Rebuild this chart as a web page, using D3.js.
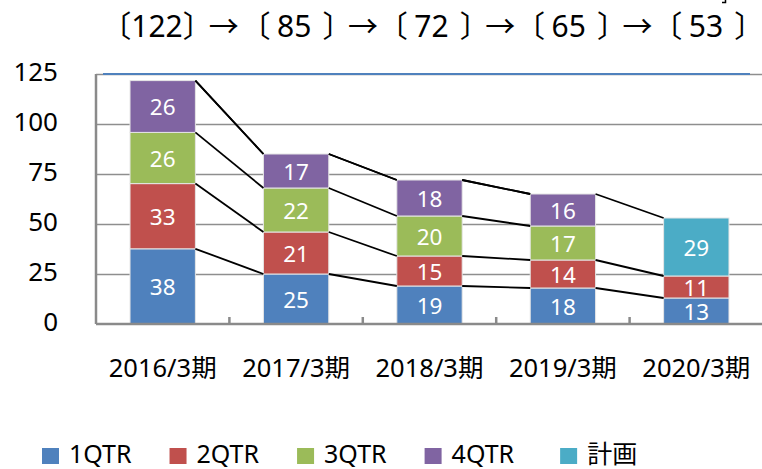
<!DOCTYPE html>
<html lang="ja">

<head>
    <meta charset="UTF-8">
    <title></title>
    <style>
        body {
            margin: 0;
            background: #fff;
        }

        text {
            font-family: "Noto Sans", "Noto Sans CJK JP", sans-serif;
        }

        .grid line {
            stroke: #8e8e8e;
            stroke-width: 1.6px;
        }

        .axis-line {
            stroke: #8a8a8a;
            stroke-width: 2.5px;
        }

        .series-line {
            stroke: #000;
            stroke-width: 1.8px;
        }

        .bar {
            stroke: #e6e6e6;
            stroke-width: 1px;
        }

        .value-label {
            fill: #fff;
            font-size: 22.5px;
            text-anchor: middle;
            dominant-baseline: central;
        }

        .y-label {
            font-size: 26px;
            text-anchor: end;
            dominant-baseline: central;
        }

        .x-label {
            font-size: 25.5px;
            text-anchor: middle;
        }

        .title {
            font-size: 30px;
        }

        .title-sym {
            font-family: "Noto Sans CJK JP", sans-serif;
            font-size: 30px;
        }

        .title-bracket {
            font-family: "Noto Sans CJK JP", sans-serif;
            font-size: 30px;
            font-feature-settings: "halt" 1;
        }

        .legend-label {
            font-size: 25px;
        }
    </style>
</head>

<body>
    <script src="https://d3js.org/d3.v7.min.js"></script>
    <script>
        const categories = ['2016/3期', '2017/3期', '2018/3期', '2019/3期', '2020/3期'];
        const seriesNames = ['1QTR', '2QTR', '3QTR', '4QTR', '計画'];
        const q1 = [37.6, 25, 19, 18, 13];
        const q2 = [32.6, 21, 15, 14, 11];
        const q3 = [25.6, 22, 20, 17, null];
        const q4 = [25.9, 17, 18, 16, null];
        const plan = [0, 0, 0, 0, 29];
        const yTicks = [0, 25, 50, 75, 100, 125];
        const colors = ['#4f81bd', '#c0504d', '#9bbb59', '#8064a2', '#4bacc6'];

        const width = 762;
        const height = 469;
        const plotLeft = 96, plotRight = 763, plotTop = 74, plotBottom = 324;

        const values = [q1, q2, q3, q4, plan];

        const xScale = d3.scaleBand()
            .domain(categories)
            .range([plotLeft, plotRight])
            .paddingInner(0.51)
            .paddingOuter(0.255);
        const yScale = d3.scaleLinear()
            .domain([0, 125])
            .range([plotBottom, plotTop]);
        const bw = xScale.bandwidth();

        // cumulative tops per series/category
        const tops = values.map(() => []);
        const bases = values.map(() => []);
        categories.forEach((c, i) => {
            let cum = 0;
            values.forEach((s, k) => {
                bases[k][i] = cum;
                cum += s[i] || 0;
                tops[k][i] = cum;
            });
        });
        const totals = categories.map((c, i) => Math.round(d3.sum(values, s => s[i] || 0)));

        const svg = d3.select('body')
            .append('svg')
            .attr('width', width)
            .attr('height', height);

        // title: 〔total〕→〔total〕... as one text with positioned tspans
        function measure(str, cls) {
            const t = svg.append('text').attr('class', cls).text(str);
            const w = t.node().getComputedTextLength();
            t.remove();
            return w;
        }
        const bracketW = measure('〔', 'title-bracket');
        const arrowW = measure('→', 'title-sym');
        const titleX = d3.scalePoint().domain(d3.range(totals.length)).range([157, 706]);
        const title = svg.append('text').attr('y', 37);
        totals.forEach((t, i) => {
            const cx = titleX(i);
            const hw = measure(String(t), 'title') / 2;
            const openEnd = i === 0 ? cx - hw : cx - hw - 6.5;
            const closeStart = i === 0 ? cx + hw : cx + hw + 11;
            title.append('tspan').attr('class', 'title-bracket').attr('x', openEnd - bracketW).text('〔');
            title.append('tspan').attr('class', 'title').attr('x', cx - hw).text(t);
            title.append('tspan').attr('class', 'title-bracket').attr('x', closeStart).text('〕');
            if (i < totals.length - 1) {
                const mid = (cx + titleX(i + 1)) / 2 - (i === 0 ? 2 : 0);
                title.append('tspan').attr('class', 'title-sym').attr('x', mid - arrowW / 2).text('→');
            }
        });

        // clipped fragment at the very top edge
        svg.append('path')
            .attr('d', 'M722,2.5H725.5V0')
            .attr('fill', 'none')
            .attr('stroke', '#000')
            .attr('stroke-width', 1.5);

        // grid
        svg.append('g')
            .attr('class', 'grid')
            .attr('transform', `translate(${plotLeft}, 0)`)
            .call(d3.axisRight(yScale).tickValues(yTicks.slice(1)).tickSize(plotRight - plotLeft).tickFormat(''))
            .call(g => g.select('.domain').remove());

        svg.append('line')
            .attr('x1', 103).attr('x2', 750)
            .attr('y1', yScale(125)).attr('y2', yScale(125))
            .attr('stroke', '#4f81bd')
            .attr('stroke-width', 2);

        // bars
        values.forEach((s, k) => {
            svg.append('g')
                .selectAll('rect')
                .data(categories.map((c, i) => ({ c, i, v: s[i] })).filter(d => d.v))
                .join('rect')
                .attr('class', 'bar')
                .attr('fill', colors[k])
                .attr('x', d => xScale(d.c))
                .attr('width', bw)
                .attr('y', d => yScale(tops[k][d.i]))
                .attr('height', d => yScale(bases[k][d.i]) - yScale(tops[k][d.i]));
        });

        // series lines
        values.forEach((s, k) => {
            for (let i = 0; i < categories.length - 1; i++) {
                if (s[i] == null || s[i + 1] == null) continue;
                svg.append('line')
                    .attr('class', 'series-line')
                    .attr('x1', xScale(categories[i]) + bw)
                    .attr('y1', yScale(tops[k][i]))
                    .attr('x2', xScale(categories[i + 1]))
                    .attr('y2', yScale(tops[k][i + 1]));
            }
        });

        // value labels
        values.forEach((s, k) => {
            svg.append('g')
                .selectAll('text')
                .data(categories.map((c, i) => ({ c, i, v: s[i] })).filter(d => d.v))
                .join('text')
                .attr('class', 'value-label')
                .attr('x', d => xScale(d.c) + bw / 2)
                .attr('y', d => (yScale(tops[k][d.i]) + yScale(bases[k][d.i])) / 2)
                .text(d => Math.round(d.v));
        });

        // axes
        svg.append('line')
            .attr('class', 'axis-line')
            .attr('x1', plotLeft).attr('x2', plotLeft)
            .attr('y1', yScale(125)).attr('y2', plotBottom);
        svg.append('line')
            .attr('class', 'axis-line')
            .attr('x1', plotLeft).attr('x2', plotRight)
            .attr('y1', plotBottom).attr('y2', plotBottom);

        const step = xScale.step();
        svg.append('g')
            .selectAll('line')
            .data(d3.range(1, categories.length))
            .join('line')
            .attr('class', 'axis-line')
            .attr('x1', i => plotLeft + i * step).attr('x2', i => plotLeft + i * step)
            .attr('y1', plotBottom - 7).attr('y2', plotBottom);

        svg.append('g')
            .selectAll('text')
            .data(yTicks)
            .join('text')
            .attr('class', 'y-label')
            .attr('x', 58)
            .attr('y', d => yScale(d) - 3)
            .text(d => d);

        svg.append('g')
            .selectAll('text')
            .data(categories)
            .join('text')
            .attr('class', 'x-label')
            .attr('x', d => xScale(d) + bw / 2)
            .attr('y', 377)
            .text(d => d);

        // legend
        let lx = 42;
        seriesNames.forEach((name, k) => {
            const g = svg.append('g').attr('transform', `translate(${lx}, 0)`);
            g.append('rect')
                .attr('x', 0).attr('y', 448)
                .attr('width', 17).attr('height', 16)
                .attr('fill', colors[k]);
            const t = g.append('text')
                .attr('class', 'legend-label')
                .attr('x', 27)
                .attr('y', 463)
                .text(name);
            lx += 27 + t.node().getComputedTextLength() + (k === 3 ? 46 : 38);
        });
    </script>
</body>

</html>
